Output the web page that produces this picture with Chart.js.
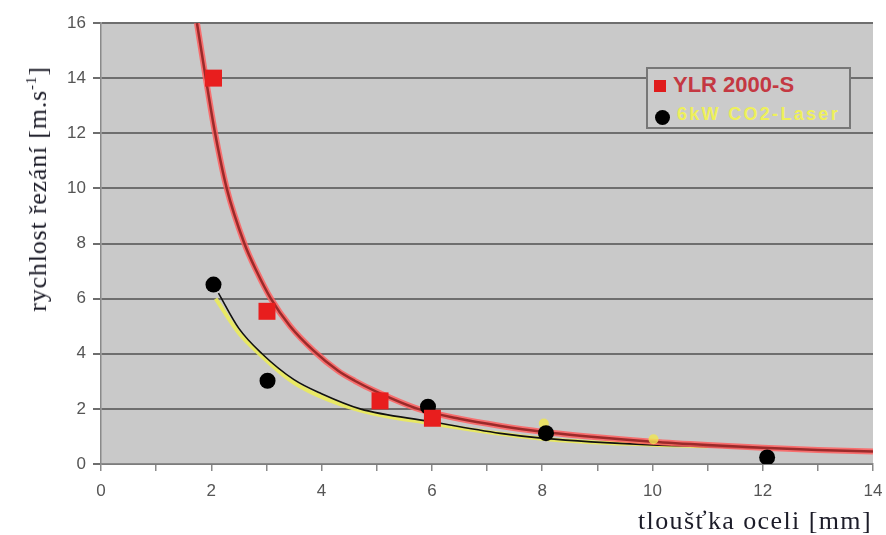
<!DOCTYPE html>
<html>
<head>
<meta charset="utf-8">
<script src="https://cdn.jsdelivr.net/npm/chart.js@4.4.1/dist/chart.umd.min.js"></script>
<style>
  html, body { margin: 0; padding: 0; background: #ffffff; }
  #wrap { position: relative; width: 886px; height: 535px; overflow: hidden; }
  #c { position: absolute; left: 0; top: 0; }
  .ytitle {
    position: absolute; left: 38px; top: 189px;
    transform: translate(-50%, -50%) rotate(-90deg);
    white-space: nowrap; font-family: "Liberation Serif", "DejaVu Serif", serif;
    font-size: 26px; letter-spacing: 0.8px; color: #1c1c28;
  }
  .ytitle sup { font-size: 15px; vertical-align: 10px; line-height: 0; }
  .xtitle {
    position: absolute; right: 14px; top: 506px;
    white-space: nowrap; font-family: "Liberation Serif", "DejaVu Serif", serif;
    font-size: 26px; letter-spacing: 1.4px; color: #1c1c28;
  }
  #legend {
    position: absolute; left: 646px; top: 67px; width: 201px; height: 58px;
    border: 2px solid #777; background: #cbcbcb;
  }
  .lg1 { position: absolute; left: 25px; top: 3px; font-family: "Liberation Sans", Arial, sans-serif;
    font-weight: bold; font-size: 22px; color: #c43842; }
  .lg2 { position: absolute; left: 29px; top: 35px; font-family: "Liberation Sans", Arial, sans-serif;
    font-weight: bold; font-size: 18px; letter-spacing: 2.3px; color: #eef05a; }
  .sq { position: absolute; left: 6px; top: 11px; width: 12px; height: 12px; background: #e01c1c; }
  .dot { position: absolute; left: 7px; top: 41px; width: 15px; height: 15px; border-radius: 50%; background: #000; }
</style>
</head>
<body>
<div id="wrap">
  <canvas id="c" width="886" height="535"></canvas>
  <div class="ytitle">rychlost řezání [m.s<sup>-1</sup>]</div>
  <div class="xtitle">tloušťka oceli [mm]</div>
  <div id="legend">
    <div class="sq"></div><div class="lg1">YLR 2000-S</div>
    <div class="dot"></div><div class="lg2">6kW CO2-Laser</div>
  </div>
</div>
<script>
// Measured points
const ylrThickness = [2.04, 3.01, 5.06, 6.01];
const ylrSpeed     = [14.0, 5.54, 2.29, 1.66];
const co2Thickness = [2.04, 3.02, 5.93, 8.07, 12.08];
const co2Speed     = [6.51, 3.02, 2.08, 1.12, 0.24];
const extraThickness = [8.03, 10.02];
const extraSpeed     = [1.47, 0.90];
// Trend lines
const ylrTrendX = [1.74, 1.90, 2.06, 2.28, 2.6, 2.82, 3.08, 3.43, 3.85, 4.3, 4.6, 5.0, 5.75, 6.5, 7.25, 8.0, 9.0, 10.0, 11.0, 12.0, 13.0, 14.0];
const ylrTrendY = [16.0, 14.0, 12.1, 10.0, 8.0, 7.0, 6.0, 5.0, 4.12, 3.38, 3.02, 2.62, 2.0, 1.64, 1.38, 1.17, 0.97, 0.81, 0.69, 0.59, 0.51, 0.45];
const co2TrendX = [2.13, 2.5, 2.92, 3.5, 4.0, 4.7, 5.97, 7.24, 8.03, 10.0, 11.0, 12.0];
const co2TrendY = [6.2, 4.92, 4.0, 3.06, 2.55, 2.0, 1.54, 1.11, 0.93, 0.69, 0.63, 0.56];
const yelTrendX = [2.08, 2.5, 2.87, 3.5, 4.6, 6.0, 8.0, 10.0, 11.0];
const yelTrendY = [6.0, 4.75, 4.0, 2.95, 2.0, 1.47, 0.92, 0.70, 0.64];
// Axis ranges
const xMin = 0, xMax = 14, yMin = 0, yMax = 16;

const pts = (xs, ys) => xs.map((x, i) => ({ x: x, y: ys[i] }));

const bgPlugin = {
  id: 'plotBg',
  beforeDraw(chart) {
    const { ctx, chartArea: a } = chart;
    ctx.save();
    ctx.fillStyle = '#c9c9c9';
    ctx.fillRect(a.left, a.top, a.right - a.left, a.bottom - a.top);
    ctx.restore();
  }
};

new Chart(document.getElementById('c'), {
  type: 'scatter',
  data: {
    datasets: [
      { label: 'YLR 2000-S', data: pts(ylrThickness, ylrSpeed), pointStyle: 'rect',
        pointRadius: 12, backgroundColor: '#e81e1e', borderColor: '#e81e1e', borderWidth: 0, order: 0 },
      { label: '6kW CO2-Laser', data: pts(co2Thickness, co2Speed), pointStyle: 'circle',
        pointRadius: 8, backgroundColor: '#000', borderColor: '#000', borderWidth: 0, order: 1 },
      { label: 'extra', data: pts(extraThickness, extraSpeed), pointStyle: 'circle',
        pointRadius: 5, backgroundColor: 'rgba(240,230,80,0.8)', borderWidth: 0, order: 2 },
      { label: 'ylrCore', data: pts(ylrTrendX, ylrTrendY), showLine: true, pointRadius: 0,
        borderColor: '#9a2a2a', borderWidth: 2.5, cubicInterpolationMode: 'monotone', order: 3 },
      { label: 'ylrHalo', data: pts(ylrTrendX, ylrTrendY), showLine: true, pointRadius: 0,
        borderColor: 'rgba(255,95,95,0.85)', borderWidth: 6, cubicInterpolationMode: 'monotone', order: 4 },
      { label: 'co2Trend', data: pts(co2TrendX, co2TrendY), showLine: true, pointRadius: 0,
        borderColor: '#111', borderWidth: 1.6, cubicInterpolationMode: 'monotone', order: 5 },
      { label: 'yelTrend', data: pts(yelTrendX, yelTrendY), showLine: true, pointRadius: 0,
        borderColor: 'rgba(235,235,90,0.9)', borderWidth: 4, cubicInterpolationMode: 'monotone', order: 6 }
    ]
  },
  options: {
    responsive: false,
    animation: false,
    layout: { padding: { left: 0, right: 13, top: 23, bottom: 0 } },
    plugins: { legend: { display: false }, tooltip: { enabled: false } },
    scales: {
      x: {
        type: 'linear', min: xMin, max: xMax,
        afterFit(s) { s.height = 71; s.paddingLeft = 0; s.paddingRight = 0; },
        border: { display: true, color: '#8a8a8a', width: 1.5 },
        grid: { drawOnChartArea: false, drawTicks: true, tickLength: 7, color: '#8a8a8a', lineWidth: 1.5 },
        ticks: { stepSize: 1, autoSkip: false, maxRotation: 0, padding: 10, color: '#555',
          font: { family: 'Liberation Sans', size: 17 },
          callback: v => (v % 2 === 0 ? String(v) : '') }
      },
      y: {
        type: 'linear', min: yMin, max: yMax,
        afterFit(s) { s.width = 101; s.paddingTop = 0; s.paddingBottom = 0; },
        border: { display: true, color: '#8a8a8a', width: 1.5 },
        grid: { drawOnChartArea: true, drawTicks: true, tickLength: 8, color: '#6e6e6e', lineWidth: 2 },
        ticks: { stepSize: 2, padding: 7, color: '#555', font: { family: 'Liberation Sans', size: 17 } }
      }
    }
  },
  plugins: [bgPlugin]
});
</script>
</body>
</html>
